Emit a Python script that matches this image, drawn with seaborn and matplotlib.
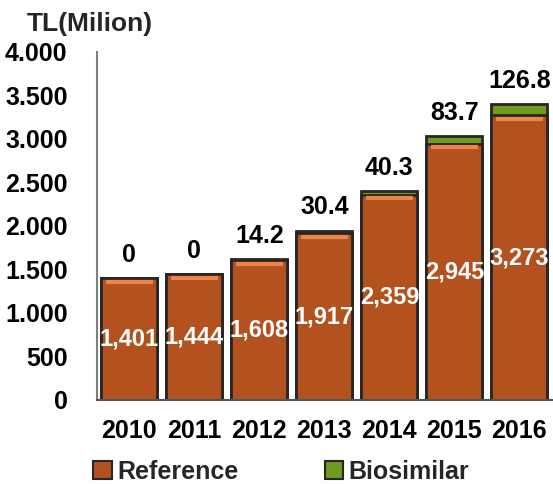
import numpy as np
import pandas as pd
import matplotlib
matplotlib.use("Agg")
import matplotlib.pyplot as plt
import matplotlib.ticker as mticker
from matplotlib.patches import Patch
import seaborn as sns

years = ["2010", "2011", "2012", "2013", "2014", "2015", "2016"]
reference = [1401, 1444, 1608, 1917, 2359, 2945, 3273]
biosimilar = [0, 0, 14.2, 30.4, 40.3, 83.7, 126.8]

ref_color = "#B3521E"
bio_color = "#6E9A1E"
edge_color = "#262626"

sns.set_theme(style="white")
plt.rcParams["font.family"] = ["Liberation Sans", "DejaVu Sans"]
plt.rcParams["font.weight"] = "bold"

df = pd.DataFrame({"year": years, "reference": reference, "biosimilar": biosimilar})
df["total"] = df["reference"] + df["biosimilar"]

fig = plt.figure(figsize=(5.53, 4.84), dpi=100)
ax = fig.add_axes([0.175, 0.1736, 0.823, 0.719])

# stacked: total (green) first, reference drawn over it
sns.barplot(data=df, x="year", y="total", color=bio_color, width=0.86,
            edgecolor=edge_color, linewidth=2, saturation=1, ax=ax)
sns.barplot(data=df, x="year", y="reference", color=ref_color, width=0.86,
            edgecolor=edge_color, linewidth=2, saturation=1, ax=ax)

# light bevel strip just under the top of each reference bar
xs = np.arange(len(years))
ax.hlines(df["reference"] - 40, xs - 0.36, xs + 0.36, color="#EE8448", linewidth=3, zorder=3)

for i, row in df.iterrows():
    ax.text(i, row["reference"] / 2, f"{row['reference']:,}", color="white",
            ha="center", va="center", fontsize=17, fontweight="bold")
    lab = "0" if row["biosimilar"] == 0 else f"{row['biosimilar']:.1f}"
    ax.annotate(lab, (i, row["total"]), xytext=(0, 8), textcoords="offset points",
                ha="center", va="bottom", fontsize=18, fontweight="bold", color="black")

ax.set_ylim(0, 4000)
ax.set_xlim(-0.5, 6.5)
ax.yaxis.set_major_locator(mticker.MultipleLocator(500))
ax.yaxis.set_major_formatter(mticker.FuncFormatter(lambda v, p: f"{int(v):,}".replace(",", ".")))
ax.set_xlabel("")
ax.set_ylabel("")

ax.set_xticks(np.arange(-0.5, 7, 1), minor=True)
ax.tick_params(axis="x", which="major", length=0, pad=14, labelsize=18)
ax.tick_params(axis="x", which="minor", length=7, width=1.2, color="#7f7f7f", direction="out")
ax.tick_params(axis="y", length=7, width=1.2, color="#7f7f7f", direction="out", pad=14, labelsize=18)
for t in ax.get_xticklabels() + ax.get_yticklabels():
    t.set_fontweight("bold")
    t.set_color("black")

for s in ["top", "right"]:
    ax.spines[s].set_visible(False)
ax.spines["left"].set_color("#7f7f7f")
ax.spines["left"].set_linewidth(1.5)
ax.spines["bottom"].set_color("#555555")
ax.spines["bottom"].set_linewidth(1.5)

fig.text(0.163, 0.950, "TL(Milion)", fontsize=19, fontweight="bold", ha="center", va="center")

handles = [Patch(facecolor=ref_color, edgecolor=edge_color, linewidth=1.5, label="Reference"),
           Patch(facecolor=bio_color, edgecolor=edge_color, linewidth=1.5, label="Biosimilar")]
fig.legend(handles=handles, loc="center left", bbox_to_anchor=(0.128, 0.025), ncol=2,
           frameon=False, handlelength=0.75, handleheight=0.75, handletextpad=0.2,
           columnspacing=3.45, prop={"size": 18, "weight": "bold"})

fig.savefig("out.png", dpi=100)
